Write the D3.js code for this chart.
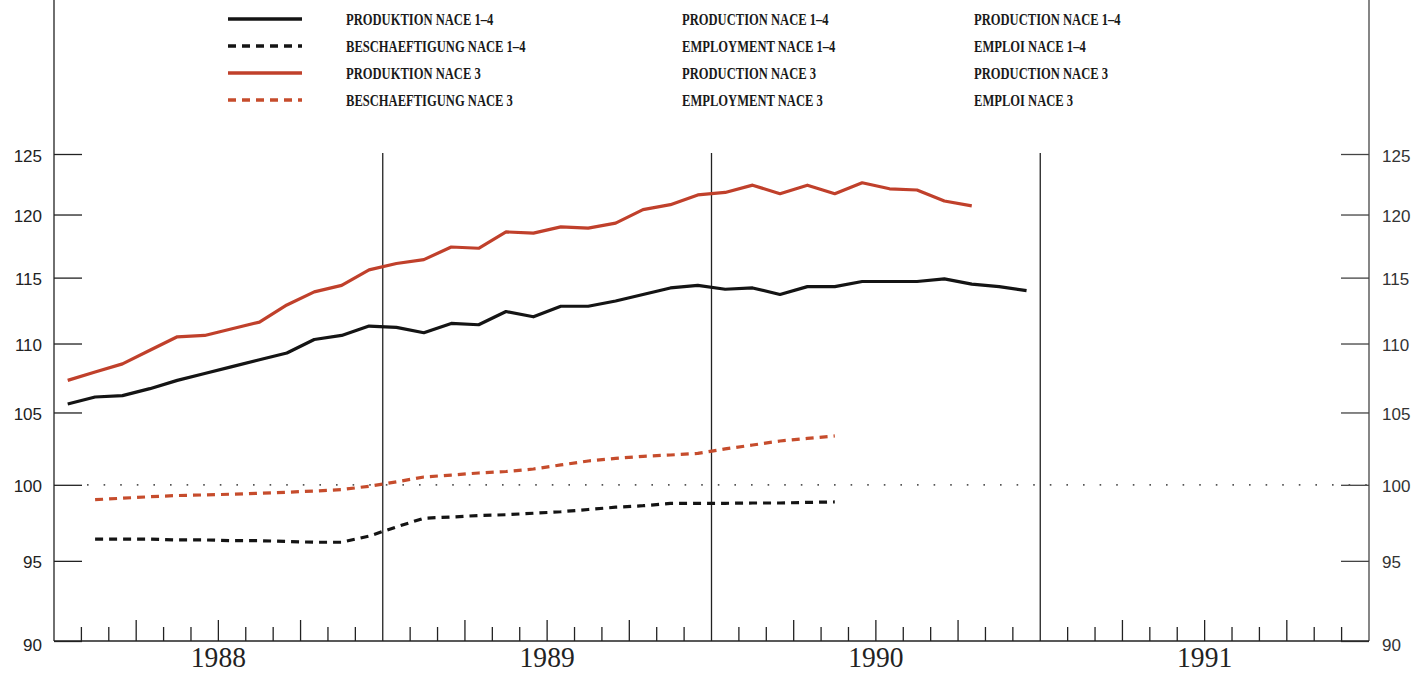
<!DOCTYPE html>
<html>
<head>
<meta charset="utf-8">
<script src="https://cdn.jsdelivr.net/npm/d3@7"></script>
<style>
  html, body { margin: 0; padding: 0; background: #fff; }
  svg { display: block; }
</style>
</head>
<body>
<svg id="chart" width="1417" height="674"></svg>
<script>
// ---------- DATA ----------
const years = ["1988", "1989", "1990", "1991"];
const months = years.flatMap(y => d3.range(1, 13).map(m => y + "-" + String(m).padStart(2, "0")));
const yTicks = [90, 95, 100, 105, 110, 115, 120, 125];

// Production NACE 1-4 (from 1988-01)
const prod14Start = "1988-01";
const prod14 = [105.6,106.1,106.2,106.7,107.3,107.8,108.3,108.8,109.3,110.3,110.6,111.3,
                111.2,110.8,111.5,111.4,112.4,112.0,112.8,112.8,113.2,113.7,114.2,114.4,
                114.1,114.2,113.7,114.3,114.3,114.7,114.7,114.7,114.9,114.5,114.3,114.0];
// Production NACE 3 (from 1988-01)
const prod3Start = "1988-01";
const prod3 = [107.3,107.9,108.5,109.5,110.5,110.6,111.1,111.6,112.9,113.9,114.4,115.6,
               116.1,116.4,117.4,117.3,118.6,118.5,119.0,118.9,119.3,120.4,120.8,121.6,
               121.8,122.4,121.7,122.4,121.7,122.6,122.1,122.0,121.1,120.7];
// Employment NACE 1-4 (from 1988-02)
const emp14Start = "1988-02";
const emp14 = [96.4,96.4,96.4,96.35,96.35,96.3,96.3,96.25,96.2,96.2,96.6,97.2,
               97.77,97.85,97.95,98.0,98.1,98.2,98.35,98.5,98.6,98.75,98.76,98.76,
               98.78,98.78,98.82,98.85];
// Employment NACE 3 (from 1988-02)
const emp3Start = "1988-02";
const emp3 = [99.0,99.1,99.2,99.28,99.32,99.37,99.43,99.5,99.58,99.68,99.9,100.2,
              100.53,100.66,100.8,100.9,101.07,101.35,101.62,101.8,101.94,102.03,102.14,102.45,
              102.72,103.0,103.18,103.35];

const legendDE = ["PRODUKTION NACE 1–4", "BESCHAEFTIGUNG NACE 1–4", "PRODUKTION NACE 3", "BESCHAEFTIGUNG NACE 3"];
const legendEN = ["PRODUCTION NACE 1–4", "EMPLOYMENT NACE 1–4", "PRODUCTION NACE 3", "EMPLOYMENT NACE 3"];
const legendFR = ["PRODUCTION NACE 1–4", "EMPLOI NACE 1–4", "PRODUCTION NACE 3", "EMPLOI NACE 3"];

// ---------- LAYOUT ----------
const svg = d3.select("#chart");
const L = 54, R = 1369, B = 641, T = 154;
const RED = "#c0402b", BLACK = "#141414";

const x = d3.scaleLinear().domain([0, months.length]).range([L, R]);
const y = d3.scaleLog().domain([90, 125]).range([B, T]);

const series = [
  { start: prod14Start, values: prod14, color: BLACK, dash: null },
  { start: emp14Start, values: emp14, color: BLACK, dash: "8,6" },
  { start: prod3Start, values: prod3, color: RED, dash: null },
  { start: emp3Start, values: emp3, color: "#c64c2c", dash: "8,6" }
];

// frame verticals
svg.append("line").attr("x1", L).attr("x2", L).attr("y1", 0).attr("y2", B)
  .attr("stroke", "#222").attr("stroke-width", 1.3);
svg.append("line").attr("x1", R).attr("x2", R).attr("y1", 0).attr("y2", B)
  .attr("stroke", "#444").attr("stroke-width", 1.3);

// Left / right axis ticks
const leftAxis = d3.axisRight(y).tickValues(yTicks).tickSize(28).tickFormat("");
svg.append("g").attr("transform", `translate(${L},0)`).call(leftAxis)
  .call(g => g.select(".domain").remove())
  .call(g => g.selectAll("line").attr("stroke", "#222").attr("stroke-width", 1.3));
const rightAxis = d3.axisLeft(y).tickValues(yTicks).tickSize(28).tickFormat("");
svg.append("g").attr("transform", `translate(${R},0)`).call(rightAxis)
  .call(g => g.select(".domain").remove())
  .call(g => g.selectAll("line").attr("stroke", "#444").attr("stroke-width", 1.3));

// y labels
svg.append("g").selectAll("text").data(yTicks).join("text")
  .attr("x", 42).attr("y", d => y(d) + (d === 90 ? 4 : 2))
  .attr("text-anchor", "end").attr("dominant-baseline", "central")
  .attr("font-family", "Liberation Sans, Arial, sans-serif").attr("font-size", 17)
  .attr("fill", "#222").text(d => d);
svg.append("g").selectAll("text").data(yTicks).join("text")
  .attr("x", 1382).attr("y", d => y(d) + (d === 90 ? 4 : 2))
  .attr("text-anchor", "start").attr("dominant-baseline", "central")
  .attr("font-family", "Liberation Sans, Arial, sans-serif").attr("font-size", 17)
  .attr("fill", "#333").text(d => d);

// bottom axis with month ticks
const monthIdx = d3.range(1, months.length);
svg.append("line").attr("x1", L).attr("x2", R).attr("y1", B).attr("y2", B)
  .attr("stroke", "#222").attr("stroke-width", 1.3);
svg.append("g").selectAll("line").data(monthIdx.filter(i => i % 12 !== 0)).join("line")
  .attr("x1", d => x(d)).attr("x2", d => x(d))
  .attr("y1", B).attr("y2", d => B - (d % 3 === 0 ? 21 : 14))
  .attr("stroke", "#222").attr("stroke-width", 1.3);

// year separators
svg.append("g").selectAll("line").data([12, 24, 36]).join("line")
  .attr("x1", d => x(d)).attr("x2", d => x(d)).attr("y1", 153).attr("y2", B)
  .attr("stroke", "#222").attr("stroke-width", 1.3);

// year labels
svg.append("g").selectAll("text").data(years).join("text")
  .attr("transform", (d, i) => `translate(${x(i * 12 + 6)},667) scale(0.95,1)`)
  .attr("text-anchor", "middle")
  .attr("font-family", "Liberation Serif, Times New Roman, serif").attr("font-size", 29)
  .attr("fill", "#222").text(d => d);

// 100 reference dotted line
svg.append("line").attr("x1", 87).attr("x2", R).attr("y1", y(100)).attr("y2", y(100))
  .attr("stroke", "#555").attr("stroke-width", 1.8).attr("stroke-dasharray", "1.6,15");

// series lines
const line = d3.line().x(d => x(d.m + 0.5)).y(d => y(d.v));
series.forEach(s => {
  const s0 = months.indexOf(s.start);
  const pts = s.values.map((v, i) => ({ m: s0 + i, v }));
  svg.append("path").datum(pts).attr("d", line)
    .attr("fill", "none").attr("stroke", s.color).attr("stroke-width", 3.2)
    .attr("stroke-linejoin", "round")
    .attr("stroke-dasharray", s.dash);
});

// legend
const legY = [19, 46, 73, 100];
const leg = svg.append("g");
series.forEach((s, i) => {
  leg.append("line").attr("x1", 228).attr("x2", 302).attr("y1", legY[i]).attr("y2", legY[i])
    .attr("stroke", s.color).attr("stroke-width", 3.4).attr("stroke-dasharray", s.dash);
});
[[346, legendDE], [682, legendEN], [974, legendFR]].forEach(([lx, labels]) => {
  leg.append("g").selectAll("text").data(labels).join("text")
    .attr("transform", (d, i) => `translate(${lx},${legY[i] + 6}) scale(0.74,1)`)
    .attr("font-family", "Liberation Serif, Times New Roman, serif").attr("font-size", 17)
    .attr("font-weight", "bold").attr("fill", "#1a1a1a").text(d => d);
});
</script>
</body>
</html>
